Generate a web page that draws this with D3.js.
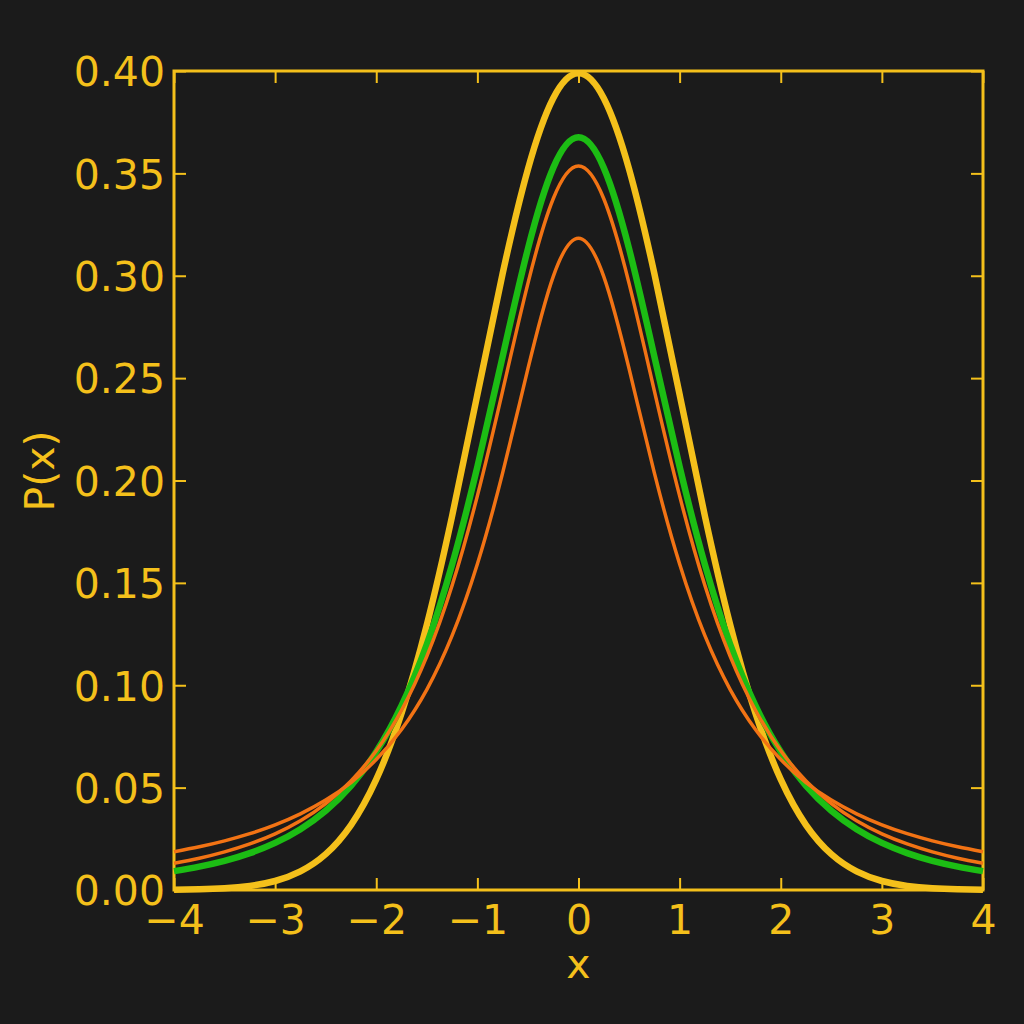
<!DOCTYPE html>
<html><head><meta charset="utf-8">
<script src="https://cdn.jsdelivr.net/npm/d3@7"></script>
<style>html,body{margin:0;padding:0;background:#1b1b1b;}svg{display:block;}</style>
</head><body>
<script>
// x positions (right half; left half is mirrored)
const xHalf = [0, 0.25, 0.5, 0.75, 1, 1.25, 1.5, 1.75, 2, 2.25, 2.5, 2.75, 3, 3.25, 3.5, 3.75, 4];
// Yellow (normal)
const yNormal = [0.3989, 0.3867, 0.3521, 0.3011, 0.2420, 0.1826, 0.1295, 0.0863, 0.0540, 0.0317, 0.0175, 0.0091, 0.0044, 0.0020, 0.0009, 0.0004, 0.0001];
// Green
const yGreen = [0.3676, 0.3527, 0.3132, 0.2606, 0.2067, 0.1589, 0.1200, 0.0900, 0.0675, 0.0509, 0.0387, 0.0297, 0.0230, 0.0180, 0.0142, 0.0114, 0.0092];
// Orange (taller)
const yOrangeA = [0.3536, 0.3376, 0.2963, 0.2438, 0.1925, 0.1487, 0.1141, 0.0878, 0.0680, 0.0533, 0.0422, 0.0338, 0.0274, 0.0225, 0.0186, 0.0155, 0.0131];
// Orange (lowest peak)
const yOrangeB = [0.3183, 0.2996, 0.2546, 0.2037, 0.1592, 0.1242, 0.0979, 0.0784, 0.0637, 0.0525, 0.0439, 0.0372, 0.0318, 0.0275, 0.0240, 0.0211, 0.0187];
const xTicks = [-4, -3, -2, -1, 0, 1, 2, 3, 4];
const yTicks = [0.00, 0.05, 0.10, 0.15, 0.20, 0.25, 0.30, 0.35, 0.40];

const W = 1024, H = 1024;
const m = {left: 174, top: 71, right: 41, bottom: 134};
const YEL = "#f4c01b", GRN = "#1cbd14", ORG = "#f27314", BG = "#1b1b1b";
const font = "'DejaVu Sans', sans-serif";

const svg = d3.select("body").append("svg").attr("width", W).attr("height", H);
svg.append("rect").attr("width", W).attr("height", H).attr("fill", BG);

const x = d3.scaleLinear().domain([-4, 4]).range([m.left, W - m.right]);
const y = d3.scaleLinear().domain([0, 0.4]).range([H - m.bottom, m.top]);

function full(vals) {
  const pts = [];
  for (let i = xHalf.length - 1; i > 0; i--) pts.push([-xHalf[i], vals[i]]);
  for (let i = 0; i < xHalf.length; i++) pts.push([xHalf[i], vals[i]]);
  return pts;
}

const tickLen = 12;
const g = svg.append("g");
const fmtX = d => d < 0 ? "\u2212" + Math.abs(d) : String(d);
const axB = d3.axisBottom(x).tickValues(xTicks).tickSize(-tickLen).tickPadding(15).tickFormat(fmtX);
const axT = d3.axisTop(x).tickValues(xTicks).tickSize(-tickLen).tickFormat("");
const axL = d3.axisLeft(y).tickValues(yTicks).tickSize(-tickLen).tickPadding(9).tickFormat(d3.format(".2f"));
const axR = d3.axisRight(y).tickValues(yTicks).tickSize(-tickLen).tickFormat("");

function style(sel) {
  sel.select(".domain").remove();
  sel.selectAll(".tick line").attr("stroke", YEL).attr("stroke-width", 2);
  sel.selectAll(".tick text").attr("fill", YEL).attr("font-family", font).attr("font-size", 41);
}
g.append("g").attr("transform", `translate(0,${H - m.bottom})`).call(axB).call(style)
  .selectAll(".tick text").attr("dy", "0.71em");
g.append("g").attr("transform", `translate(0,${m.top})`).call(axT).call(style);
g.append("g").attr("transform", `translate(${m.left},0)`).call(axL).call(style)
  .selectAll(".tick text").attr("dy", "0.36em");
g.append("g").attr("transform", `translate(${W - m.right},0)`).call(axR).call(style);

// frame
svg.append("rect").attr("x", m.left).attr("y", m.top)
  .attr("width", W - m.left - m.right).attr("height", H - m.top - m.bottom)
  .attr("fill", "none").attr("stroke", YEL).attr("stroke-width", 3);

// labels
svg.append("text").attr("x", (m.left + W - m.right) / 2).attr("y", 978)
  .attr("text-anchor", "middle").attr("fill", YEL).attr("font-family", font).attr("font-size", 41).text("x");
svg.append("text").attr("transform", `translate(54,471) rotate(-90)`)
  .attr("text-anchor", "middle").attr("fill", YEL).attr("font-family", font).attr("font-size", 41).text("P(x)");

const line = d3.line().x(d => x(d[0])).y(d => y(d[1])).curve(d3.curveNatural);
const series = [
  {vals: yNormal, color: YEL, w: 6.5},
  {vals: yGreen, color: GRN, w: 6.5},
  {vals: yOrangeA, color: ORG, w: 3.5},
  {vals: yOrangeB, color: ORG, w: 3.5}
];
svg.append("g").selectAll("path").data(series).join("path")
  .attr("d", s => line(full(s.vals)))
  .attr("fill", "none").attr("stroke", s => s.color).attr("stroke-width", s => s.w)
  .attr("stroke-linejoin", "round").attr("stroke-linecap", "butt");
</script>
</body></html>
